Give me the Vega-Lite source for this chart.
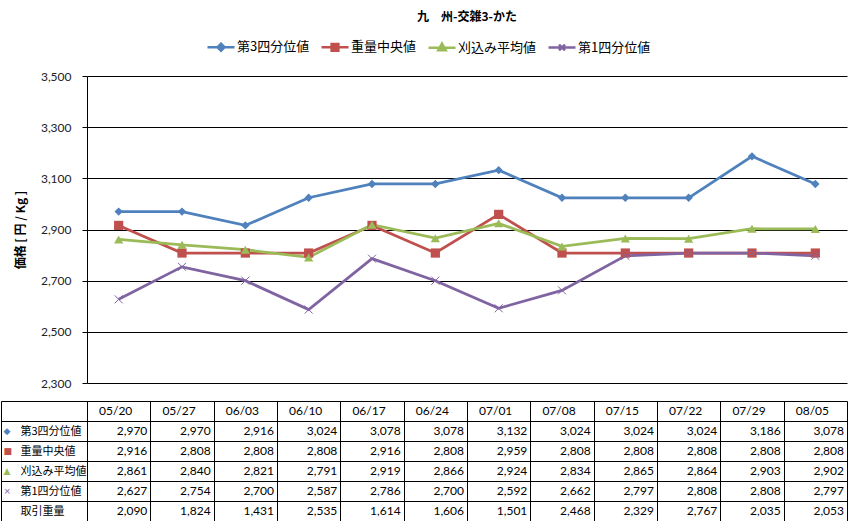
{
  "$schema": "https://vega.github.io/schema/vega-lite/v6.json",
  "background": "white",
  "padding": {"left": 0, "top": 11, "right": 11, "bottom": 1},
  "datasets": {
    "prices": [
      {"date": "05/20", "第3四分位値": 2970, "重量中央値": 2916, "刈込み平均値": 2861, "第1四分位値": 2627, "取引重量": 2090},
      {"date": "05/27", "第3四分位値": 2970, "重量中央値": 2808, "刈込み平均値": 2840, "第1四分位値": 2754, "取引重量": 1824},
      {"date": "06/03", "第3四分位値": 2916, "重量中央値": 2808, "刈込み平均値": 2821, "第1四分位値": 2700, "取引重量": 1431},
      {"date": "06/10", "第3四分位値": 3024, "重量中央値": 2808, "刈込み平均値": 2791, "第1四分位値": 2587, "取引重量": 2535},
      {"date": "06/17", "第3四分位値": 3078, "重量中央値": 2916, "刈込み平均値": 2919, "第1四分位値": 2786, "取引重量": 1614},
      {"date": "06/24", "第3四分位値": 3078, "重量中央値": 2808, "刈込み平均値": 2866, "第1四分位値": 2700, "取引重量": 1606},
      {"date": "07/01", "第3四分位値": 3132, "重量中央値": 2959, "刈込み平均値": 2924, "第1四分位値": 2592, "取引重量": 1501},
      {"date": "07/08", "第3四分位値": 3024, "重量中央値": 2808, "刈込み平均値": 2834, "第1四分位値": 2662, "取引重量": 2468},
      {"date": "07/15", "第3四分位値": 3024, "重量中央値": 2808, "刈込み平均値": 2865, "第1四分位値": 2797, "取引重量": 2329},
      {"date": "07/22", "第3四分位値": 3024, "重量中央値": 2808, "刈込み平均値": 2864, "第1四分位値": 2808, "取引重量": 2767},
      {"date": "07/29", "第3四分位値": 3186, "重量中央値": 2808, "刈込み平均値": 2903, "第1四分位値": 2808, "取引重量": 2035},
      {"date": "08/05", "第3四分位値": 3078, "重量中央値": 2808, "刈込み平均値": 2902, "第1四分位値": 2797, "取引重量": 2053}
    ]
  },
  "data": {"name": "prices"},
  "bounds": "flush",
  "spacing": 18,
  "resolve": {"scale": {"x": "independent", "y": "independent"}},
  "config": {
    "view": {"stroke": null},
    "font": "Noto Sans CJK JP"
  },
  "vconcat": [
    {
      "width": 760,
      "height": 307,
      "title": {
        "text": "九　州-交雑3-かた",
        "font": "Noto Sans CJK JP",
        "fontSize": 12,
        "fontWeight": "bold",
        "color": "black",
        "anchor": "middle",
        "offset": 46
      },
      "transform": [
        {"fold": ["第3四分位値", "重量中央値", "刈込み平均値", "第1四分位値"], "as": ["series", "value"]}
      ],
      "encoding": {
        "x": {
          "field": "date",
          "type": "ordinal",
          "scale": {"type": "point", "padding": 0.5},
          "axis": null
        },
        "y": {
          "field": "value",
          "type": "quantitative",
          "scale": {"domain": [2300, 3500], "nice": false, "zero": false},
          "axis": {
            "values": [2300, 2500, 2700, 2900, 3100, 3300, 3500],
            "format": ",d",
            "title": "価格 [ 円 / Kg ]",
            "titleFont": "Noto Sans CJK JP",
            "titleFontSize": 12,
            "titleFontWeight": "bold",
            "titleColor": "black",
            "titlePadding": 16,
            "minExtent": 44,
            "maxExtent": 44,
            "grid": true,
            "gridColor": "black",
            "gridOpacity": 1,
            "domainColor": "black",
            "tickColor": "black",
            "tickSize": 5,
            "labelPadding": 11,
            "labelFont": "Lato",
            "labelFontSize": 12,
            "labelColor": "#222222"
          }
        }
      },
      "layer": [
        {
          "mark": {"type": "line", "strokeWidth": 2.75},
          "encoding": {
            "color": {
              "field": "series",
              "type": "nominal",
              "scale": {
                "domain": ["第3四分位値", "重量中央値", "刈込み平均値", "第1四分位値"],
                "range": ["#4F81BD", "#C0504D", "#9BBB59", "#8064A2"]
              },
              "legend": {
                "orient": "none",
                "legendX": 119,
                "legendY": -44,
                "direction": "horizontal",
                "title": null,
                "symbolSize": 729,
                "labelFont": "Noto Sans CJK JP",
                "labelFontSize": 13,
                "labelColor": "black",
                "labelOffset": 1,
                "columnPadding": 6,
                "encode": {
                  "symbols": {
                    "update": {
                      "shape": {"signal": "datum.value === '第3四分位値' ? 'M-1,0H1M0,-0.26L0.26,0L0,0.26L-0.26,0Z' : datum.value === '重量中央値' ? 'M-1,0H1M-0.25,-0.25H0.25V0.25H-0.25Z' : datum.value === '刈込み平均値' ? 'M-1,0H1M0,-0.3L0.28,0.2H-0.28Z' : 'M-1,0H1M-0.22,-0.22L0.22,0.22M-0.22,0.22L0.22,-0.22'"},
                      "stroke": {"scale": "color", "field": "value"},
                      "fill": {"scale": "color", "field": "value"},
                      "strokeWidth": {"value": 2.5},
                      "opacity": {"value": 1},
                      "fillOpacity": {"value": 1},
                      "strokeOpacity": {"value": 1}
                    }
                  }
                }
              }
            }
          }
        },
        {
          "transform": [{"filter": "datum.series === '第3四分位値'"}],
          "mark": {"type": "point", "shape": "diamond", "filled": true, "size": 70, "color": "#4F81BD", "opacity": 1}
        },
        {
          "transform": [{"filter": "datum.series === '重量中央値'"}],
          "mark": {"type": "point", "shape": "square", "filled": true, "size": 85, "color": "#C0504D", "opacity": 1}
        },
        {
          "transform": [{"filter": "datum.series === '刈込み平均値'"}],
          "mark": {"type": "point", "shape": "triangle-up", "filled": true, "size": 85, "color": "#9BBB59", "opacity": 1}
        },
        {
          "transform": [{"filter": "datum.series === '第1四分位値'"}],
          "mark": {"type": "point", "shape": "M-1,-1L1,1M-1,1L1,-1", "filled": false, "size": 64, "color": "#8064A2", "strokeWidth": 1, "opacity": 1}
        }
      ]
    },
    {
      "width": 760,
      "height": 120,
      "transform": [
        {"fold": ["第3四分位値", "重量中央値", "刈込み平均値", "第1四分位値", "取引重量"], "as": ["series", "value"]}
      ],
      "resolve": {"axis": {"y": "independent"}},
      "layer": [
        {
          "mark": {"type": "text", "align": "right", "baseline": "middle", "dx": -3, "font": "Lato", "fontSize": 12, "color": "black"},
          "encoding": {
            "x": {
              "field": "date",
              "type": "ordinal",
              "bandPosition": 1,
              "scale": {"type": "band", "paddingInner": 0, "paddingOuter": 0},
              "axis": {"labels": false, "ticks": false, "domain": false, "grid": true, "gridColor": "black", "gridOpacity": 1, "tickBand": "extent", "title": null}
            },
            "y": {
              "field": "series",
              "type": "nominal",
              "scale": {"type": "band", "domain": [" ", "第3四分位値", "重量中央値", "刈込み平均値", "第1四分位値", "取引重量"], "paddingInner": 0, "paddingOuter": 0},
              "axis": {
                "orient": "left",
                "title": null,
                "domain": true,
                "domainColor": "black",
                "ticks": true,
                "tickSize": 86,
                "tickColor": "black",
                "tickBand": "extent",
                "grid": true,
                "gridColor": "black",
                "gridOpacity": 1,
                "labelAlign": "left",
                "labelBaseline": "middle",
                "labelPadding": -19,
                "labelFont": "Noto Sans CJK JP",
                "labelFontSize": 11,
                "labelColor": "black"
              }
            },
            "text": {"field": "value", "type": "quantitative", "format": ","}
          }
        },
        {
          "transform": [{"filter": "datum.series === '第3四分位値'"}],
          "mark": {"type": "text", "align": "center", "baseline": "middle", "dx": -3, "font": "Lato", "fontSize": 12, "color": "black"},
          "encoding": {
            "x": {
              "field": "date",
              "type": "ordinal",
              "bandPosition": 0.5,
              "scale": {"type": "band", "paddingInner": 0, "paddingOuter": 0},
              "axis": {"labels": false, "ticks": false, "domain": false, "grid": true, "gridColor": "black", "gridOpacity": 1, "tickBand": "extent", "title": null}
            },
            "y": {"datum": " ", "type": "nominal", "axis": null},
            "text": {"field": "date"}
          }
        },
        {
          "mark": {"type": "text", "opacity": 0},
          "encoding": {
            "y": {
              "field": "series",
              "type": "nominal",
              "axis": {
                "orient": "left",
                "offset": 86,
                "title": null,
                "domain": true,
                "domainColor": "black",
                "ticks": false,
                "grid": false,
                "labelAlign": "left",
                "labelBaseline": "middle",
                "labelPadding": -2,
                "labelFont": "DejaVu Sans",
                "labelFontSize": 9,
                "labelExpr": "datum.value === '第3四分位値' ? '◆' : datum.value === '重量中央値' ? '■' : datum.value === '刈込み平均値' ? '▲' : datum.value === '第1四分位値' ? '×' : ''",
                "labelColor": {
                  "condition": [
                    {"test": "datum.value === '第3四分位値'", "value": "#4F81BD"},
                    {"test": "datum.value === '重量中央値'", "value": "#C0504D"},
                    {"test": "datum.value === '刈込み平均値'", "value": "#9BBB59"}
                  ],
                  "value": "#8064A2"
                }
              }
            },
            "text": {"value": ""}
          }
        }
      ]
    }
  ]
}
